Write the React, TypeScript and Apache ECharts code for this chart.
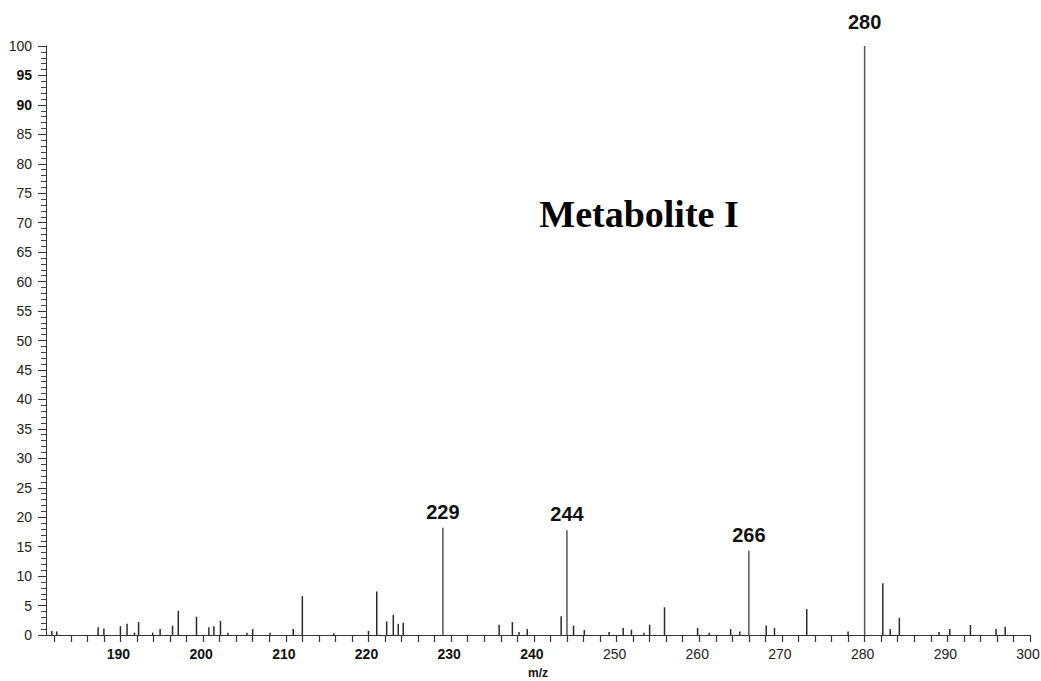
import React, { useEffect, useRef } from "react";
import * as echarts from "echarts";

// Mass spectrum of Metabolite I: m/z positions and relative abundances (%)
const mzValues = [
  181.7, 182.3, 187.3, 188.0, 190.0, 190.8, 191.7, 192.2, 193.9, 194.8,
  196.3, 197.0, 199.2, 200.7, 201.3, 202.1, 203.0, 205.3, 206.0, 208.1,
  210.9, 212.0, 215.8, 220.0, 221.0, 222.2, 223.0, 223.6, 224.2, 229,
  235.8, 237.4, 238.2, 239.2, 243.3, 244, 244.8, 246.1, 249.1, 250.8,
  251.8, 253.3, 254.0, 255.8, 259.8, 261.2, 263.8, 264.9, 266, 268.1,
  269.1, 273.0, 278.0, 280, 282.2, 283.1, 284.2, 289.0, 290.3, 292.8,
  295.9, 297.0,
];
const intensities = [
  0.7, 0.6, 1.3, 1.1, 1.5, 1.9, 0.4, 2.2, 0.4, 1.0,
  1.6, 4.1, 3.1, 1.3, 1.5, 2.4, 0.4, 0.4, 1.0, 0.4,
  1.0, 6.6, 0.3, 0.7, 7.4, 2.3, 3.4, 1.9, 2.1, 18.2,
  1.75, 2.2, 0.5, 1.0, 3.2, 17.8, 1.6, 0.85, 0.5, 1.2,
  0.9, 0.4, 1.75, 4.7, 1.2, 0.4, 1.0, 0.6, 14.3, 1.6,
  1.2, 4.4, 0.6, 100, 8.8, 1.0, 2.9, 0.5, 1.0, 1.7,
  1.0, 1.4,
];
const labeledPeaks = [229, 244, 266, 280];

const xLabelValues = [190, 200, 210, 220, 230, 240, 250, 260, 270, 280, 290, 300];
const xBoldLabels = [190, 200, 210, 220, 230, 240];
const yBoldLabels = [90, 95];
const xMin = 181;
const xMax = 300;

const titleText = "Metabolite I";
const axisName = "m/z";

const FONT = "'Liberation Sans', Arial, sans-serif";

export default function App() {
  const ref = useRef<HTMLDivElement>(null);

  useEffect(() => {
    if (!ref.current) return;
    const chart = echarts.init(ref.current, undefined, { renderer: "svg" });

    const xTicks: number[] = [];
    for (let v = 182; v <= xMax; v += 2) xTicks.push(v);

    const data = mzValues.map((mz, i) => {
      const item: any = { value: [mz, intensities[i]] };
      if (labeledPeaks.includes(mz)) {
        item.label = {
          show: true,
          position: "top",
          distance: mz === 280 ? 14 : 6,
          formatter: String(mz),
          fontFamily: FONT,
          fontWeight: "bold",
          fontSize: 20,
          color: "#111",
        };
        item.itemStyle = { color: "#555" };
      }
      return item;
    });

    chart.setOption({
      animation: false,
      backgroundColor: "#ffffff",
      grid: {
        left: 46,
        right: 11,
        top: 46,
        bottom: 46,
        containLabel: false,
        outerBoundsMode: "none",
      },
      xAxis: {
        type: "value",
        min: xMin,
        max: xMax,
        name: axisName,
        nameLocation: "middle",
        nameGap: 32,
        nameTextStyle: { fontFamily: FONT, fontWeight: "bold", fontSize: 12, color: "#111" },
        axisLine: { show: true, onZero: false, lineStyle: { color: "#333", width: 1 } },
        axisTick: { show: true, inside: false, length: 7, customValues: xTicks, lineStyle: { color: "#333", width: 1.2 } },
        axisLabel: {
          customValues: xLabelValues,
          margin: 12,
          fontFamily: FONT,
          fontSize: 14,
          color: "#111",
          formatter: (v: number) => (xBoldLabels.includes(v) ? `{b|${v}}` : `{n|${v}}`),
          rich: {
            b: { fontFamily: FONT, fontSize: 14, fontWeight: "bold", color: "#111", padding: [0, 4, 0, 0] },
            n: { fontFamily: FONT, fontSize: 14, color: "#222", padding: [0, 4, 0, 0] },
          },
        },
        splitLine: { show: false },
      },
      yAxis: {
        type: "value",
        min: 0,
        max: 100,
        interval: 5,
        axisLine: { show: true, lineStyle: { color: "#333", width: 1 } },
        axisTick: { show: true, inside: false, length: 8, lineStyle: { color: "#333", width: 1 } },
        minorTick: { show: true, splitNumber: 5, length: 5, lineStyle: { color: "#444", width: 1 } },
        axisLabel: {
          margin: 14,
          fontFamily: FONT,
          fontSize: 14,
          color: "#111",
          formatter: (v: number) => (yBoldLabels.includes(v) ? `{b|${v}}` : `{n|${v}}`),
          rich: {
            b: { fontFamily: FONT, fontSize: 14, fontWeight: "bold", color: "#111" },
            n: { fontFamily: FONT, fontSize: 14, color: "#222" },
          },
        },
        splitLine: { show: false },
      },
      series: [
        {
          type: "bar",
          data,
          barWidth: 1.5,
          itemStyle: { color: "#2a2a2a" },
          clip: false,
        },
      ],
      graphic: [
        {
          type: "text",
          x: 639,
          y: 214,
          style: {
            text: titleText,
            font: "bold 38px 'Liberation Serif', 'Times New Roman', serif",
            fill: "#000",
            textAlign: "center",
            textVerticalAlign: "middle",
          },
        },
      ],
    });

    return () => chart.dispose();
  }, []);

  return (
    <div
      ref={ref}
      style={{ position: "fixed", left: 0, top: 0, width: 1041, height: 681, background: "#fff" }}
    />
  );
}
